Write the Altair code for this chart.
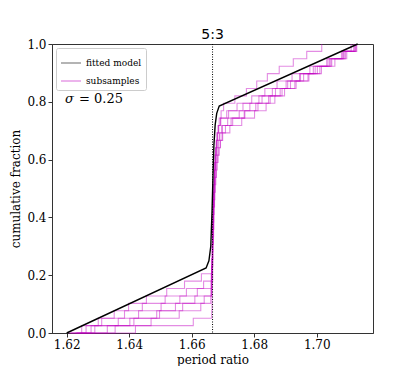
import altair as alt
import pandas as pd

# Fitted model CDF
model_x = [1.6200, 1.6646, 1.6655, 1.6661, 1.6665, 1.6668, 1.6671, 1.6675, 1.6680, 1.6688, 1.7131]
model_y = [0.000, 0.225, 0.250, 0.300, 0.420, 0.540, 0.650, 0.720, 0.760, 0.785, 1.000]

# Subsample period ratios (sorted)
s1 = [1.6205,1.6248,1.6312,1.6385,1.6442,1.6515,1.6583,1.6638,
      1.6663,1.6664,1.6665,1.6666,1.6666,1.6667,1.6667,1.6668,1.6668,1.6669,1.6670,1.6670,1.6671,1.6672,1.6673,1.6674,1.6676,1.6677,1.6679,1.6682,1.6686,1.6692,
      1.6712,1.6745,1.6792,1.6834,1.6873,1.6921,1.6978,1.7032,1.7085,1.7124]
s2 = [1.6232,1.6355,1.6470,1.6560,1.6629,
      1.6661,1.6663,1.6664,1.6665,1.6665,1.6666,1.6667,1.6667,1.6668,1.6669,1.6669,1.6670,1.6671,1.6672,1.6673,1.6675,1.6676,1.6678,1.6680,1.6683,1.6687,1.6691,1.6697,
      1.6708,1.6731,1.6770,1.6812,1.6851,1.6889,1.6930,1.6972,1.7015,1.7058,1.7096,1.7128]
s3 = [1.6228,1.6290,1.6402,1.6497,1.6571,1.6640,
      1.6662,1.6663,1.6664,1.6665,1.6665,1.6666,1.6666,1.6667,1.6667,1.6668,1.6668,1.6669,1.6670,1.6670,1.6671,1.6672,1.6673,1.6674,1.6675,1.6677,1.6679,1.6681,1.6684,1.6688,1.6694,1.6702,
      1.6738,1.6775,1.6808,1.6842,1.6880,1.6925,1.6968,1.7016]
s4 = [1.6248,1.6420,1.6605,
      1.6664,1.6665,1.6665,1.6666,1.6666,1.6667,1.6667,1.6668,1.6668,1.6669,1.6669,1.6670,1.6671,1.6671,1.6672,1.6673,1.6674,1.6675,1.6677,1.6679,1.6681,1.6684,1.6687,1.6692,1.6699,
      1.6722,1.6760,1.6801,1.6838,1.6866,1.6897,1.6934,1.6975,1.7010,1.7048,1.7083,1.7110]
s5 = [1.6210,1.6262,1.6301,1.6352,1.6398,1.6455,1.6520,1.6577,1.6631,
      1.6664,1.6665,1.6666,1.6666,1.6667,1.6667,1.6668,1.6668,1.6669,1.6670,1.6670,1.6671,1.6672,1.6673,1.6674,1.6675,1.6677,1.6679,1.6682,1.6686,1.6693,
      1.6718,1.6764,1.6815,1.6858,1.6902,1.6948,1.6995,1.7041,1.7088,1.7126]
s6 = [1.6242,1.6278,1.6365,1.6430,1.6502,1.6562,1.6618,
      1.6662,1.6663,1.6664,1.6665,1.6666,1.6666,1.6667,1.6667,1.6668,1.6669,1.6669,1.6670,1.6671,1.6672,1.6673,1.6674,1.6676,1.6678,1.6680,1.6683,1.6688,1.6696,
      1.6715,1.6752,1.6786,1.6825,1.6868,1.6907,1.6945,1.6989,1.7036,1.7079,1.7118]
s7 = [1.6215,1.6330,1.6415,1.6488,1.6548,1.6610,
      1.6663,1.6664,1.6665,1.6665,1.6666,1.6667,1.6667,1.6668,1.6668,1.6669,1.6670,1.6670,1.6671,1.6672,1.6672,1.6673,1.6675,1.6676,1.6678,1.6681,1.6685,1.6690,1.6698,
      1.6726,1.6768,1.6805,1.6846,1.6883,1.6916,1.6958,1.7002,1.7045,1.7092,1.7121]
subsamples = [s1, s2, s3, s4, s5, s6, s7]

resonance = 5 / 3
x_ticks = [1.62, 1.64, 1.66, 1.68, 1.70]
y_ticks = [0.0, 0.2, 0.4, 0.6, 0.8, 1.0]

model_df = pd.DataFrame({"x": model_x, "y": model_y, "series": "fitted model"})
rows = []
for i, s in enumerate(subsamples):
    for v in s:
        rows.append({"sub": f"s{i}", "x": v, "series": "subsamples"})
sub_df = pd.DataFrame(rows)

SERIF = "DejaVu Serif"
xscale = alt.Scale(domain=[1.6153, 1.718], nice=False, zero=False)
yscale = alt.Scale(domain=[0, 1], nice=False)
color = alt.Color("series:N",
                  scale=alt.Scale(domain=["fitted model", "subsamples"], range=["#000000", "#c000c0"]),
                  legend=alt.Legend(title=None, orient="top-left", offset=4,
                                    symbolType="stroke", symbolSize=400, symbolStrokeWidth=1.3,
                                    labelFont=SERIF, labelFontSize=9, labelColor="black",
                                    strokeColor="#cccccc", fillColor="white", padding=4,
                                    rowPadding=2, cornerRadius=2))

xaxis = alt.Axis(values=x_ticks, format=".2f", title="period ratio", grid=False)
yaxis = alt.Axis(values=y_ticks, format=".1f", title="cumulative fraction", grid=False)

subs = alt.Chart(sub_df).transform_window(
    rn="row_number()", groupby=["sub"], sort=[alt.SortField("x")]
).transform_joinaggregate(
    n="count()", groupby=["sub"]
).transform_calculate(
    y="(datum.rn - 1) / (datum.n - 1)"
).mark_line(interpolate="step-after", strokeWidth=1.1, opacity=0.45).encode(
    x=alt.X("x:Q", scale=xscale, axis=xaxis),
    y=alt.Y("y:Q", scale=yscale, axis=yaxis),
    color=color,
    detail="sub:N",
)

model = alt.Chart(model_df).mark_line(strokeWidth=1.4).encode(
    x=alt.X("x:Q", scale=xscale),
    y=alt.Y("y:Q", scale=yscale),
    color=color,
)

res_df = pd.DataFrame({"x": [resonance], "label": ["5:3"]})
vline = alt.Chart(res_df).mark_rule(color="black", strokeWidth=1, strokeDash=[1, 1.5]).encode(
    x=alt.X("x:Q", scale=xscale)
)
res_label = alt.Chart(res_df).mark_text(font="DejaVu Sans", fontSize=14, baseline="bottom", dy=-2).encode(
    x=alt.X("x:Q", scale=xscale), y=alt.value(0), text="label:N"
)
sigma_sym = alt.Chart(pd.DataFrame({"t": ["σ"]})).mark_text(
    font=SERIF, fontSize=13, fontStyle="italic", align="left", baseline="middle"
).encode(x=alt.value(13), y=alt.value(55), text="t:N")
sigma_val = alt.Chart(pd.DataFrame({"t": ["= 0.25"]})).mark_text(
    font=SERIF, fontSize=13, align="left", baseline="middle"
).encode(x=alt.value(27), y=alt.value(55), text="t:N")

chart = alt.layer(subs, model, vline, res_label, sigma_sym, sigma_val).properties(
    width=321, height=289,
    autosize=alt.AutoSizeParams(type="none"),
    padding={"left": 44, "top": 36, "right": 34, "bottom": 33},
    background="white",
).configure_view(stroke="#333333", strokeWidth=1).configure_axis(
    labelFont=SERIF, labelFontSize=12, labelColor="black",
    titleFont=SERIF, titleFontSize=12, titleFontWeight="normal", titleColor="black",
    tickColor="#333333", domainColor="#333333", tickSize=4, labelPadding=2, titlePadding=4,
)

chart.save("out.html", embed_options={"renderer": "svg", "actions": False})
